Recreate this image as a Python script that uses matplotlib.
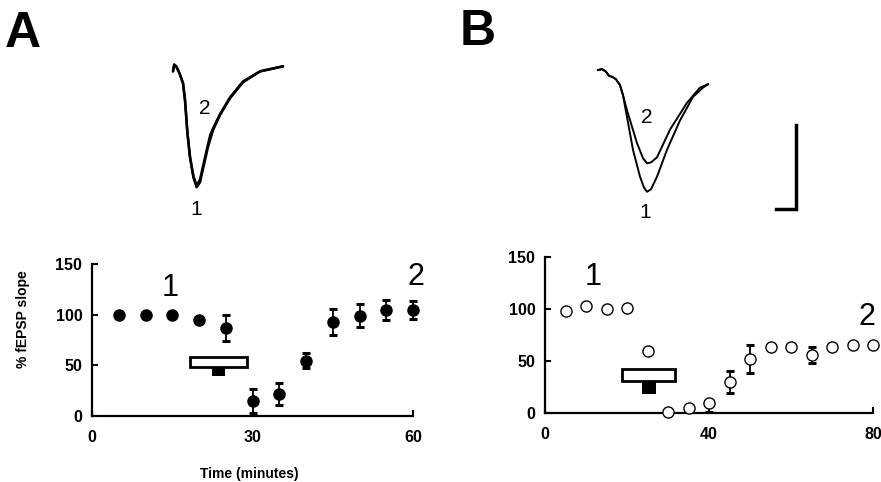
import matplotlib.pyplot as plt
import numpy as np

plt.rcParams['font.family'] = ['Liberation Sans', 'DejaVu Sans']

# Panel A: time course (filled circles)
time_a = [5, 10, 15, 20, 25, 30, 35, 40, 45, 50, 55, 60]
slope_a = [100, 100, 100, 95, 87, 15, 22, 54, 93, 99, 105, 105]
hi_a = [np.nan, np.nan, np.nan, np.nan, 100, 27, 33, 62, 106, 111, 114, 113]
lo_a = [np.nan, np.nan, np.nan, np.nan, 74, 3, 11, 47, 80, 88, 95, 96]

# Panel B: time course (open circles)
time_b = [5, 10, 15, 20, 25, 30, 35, 40, 45, 50, 55, 60, 65, 70, 75, 80]
slope_b = [98, 103, 100, 101, 60, 1, 5, 10, 30, 52, 63, 63, 56, 63, 65, 65]
hi_b = [np.nan] * 8 + [40, 65, np.nan, np.nan, 63, np.nan, np.nan, np.nan]
lo_b = [np.nan] * 7 + [1, 19, 38, np.nan, np.nan, 48, np.nan, np.nan, np.nan]

# drug application bars: (start, end, bottom, top) for open box and filled box
box_a = (18.3, 29.0, 48, 58)
fill_a = (22.4, 24.9, 39.5, 48)
box_b = (18.8, 31.7, 31, 42)
fill_b = (23.7, 27.0, 18, 31)

# example fEPSP traces (ms, mV)
ta1 = [0, 0.3, 0.8, 1.6, 2.5, 3.0, 3.6, 4.25, 5.1, 5.9, 6.75, 7.6, 8.75, 10, 11.75, 14.25, 17.5, 21.75, 27.5]
va1 = [-0.04, 0.04, 0.02, -0.06, -0.18, -0.38, -0.77, -1.06, -1.30, -1.42, -1.36, -1.18, -0.94, -0.74, -0.56, -0.36, -0.17, -0.04, 0.02]
ta2 = [0, 0.3, 0.8, 1.6, 2.5, 3.0, 3.6, 4.25, 5.1, 5.9, 6.75, 7.6, 8.6, 9.3, 10, 11.75, 14.25, 17.5, 21.75, 27.5]
va2 = [-0.04, 0.04, 0.02, -0.06, -0.18, -0.38, -0.77, -1.06, -1.29, -1.40, -1.33, -1.15, -0.94, -0.80, -0.72, -0.55, -0.35, -0.16, -0.04, 0.02]

tb1 = [0, 1, 2, 2.75, 3.5, 4.5, 5.5, 6.25, 7.25, 8.75, 10.5, 11.5, 12.25, 13.25, 14.75, 17.25, 20.5, 23.75, 26.25, 27.5]
vb1 = [0, 0.01, -0.02, -0.07, -0.08, -0.11, -0.18, -0.30, -0.56, -0.95, -1.27, -1.40, -1.45, -1.42, -1.27, -0.95, -0.60, -0.32, -0.21, -0.17]
tb2 = [0, 1, 2, 2.75, 3.5, 4.5, 5.5, 6.25, 7.25, 9.75, 11.25, 12.25, 13.25, 14.75, 18, 22.25, 25.5, 27.5]
vb2 = [0, 0.01, -0.02, -0.07, -0.08, -0.11, -0.18, -0.30, -0.48, -0.87, -1.05, -1.11, -1.10, -1.04, -0.71, -0.39, -0.21, -0.17]

scale_ms, scale_mv = 5, 1

W, H = 881, 482
fig = plt.figure(figsize=(W / 100, H / 100), dpi=100)


def px_axes(x0, y0, x1, y1):
    # axes from pixel box (top-left origin)
    return fig.add_axes([x0 / W, 1 - y1 / H, (x1 - x0) / W, (y1 - y0) / H])


def time_course(ax, t, y, hi, lo, face, xmax, xticks, box, fill, xpad):
    hi = np.array(hi, float)
    lo = np.array(lo, float)
    y = np.array(y, float)
    up = np.where(np.isnan(hi), 0, hi - y)
    dn = np.where(np.isnan(lo), 0, y - lo)
    ax.errorbar(t, y, yerr=[dn, up], fmt='none', ecolor='black', elinewidth=1.3,
                capsize=3, capthick=2.2, clip_on=False, zorder=2)
    ax.plot(t, y, 'o', ms=8, mfc=face, mec='black', mew=1.0, clip_on=False, zorder=3)
    ax.add_patch(plt.Rectangle((box[0], box[2]), box[1] - box[0], box[3] - box[2],
                               fc='white', ec='black', lw=2, zorder=1))
    ax.add_patch(plt.Rectangle((fill[0], fill[2]), fill[1] - fill[0], fill[3] - fill[2],
                               fc='black', ec='black', lw=0, zorder=1))
    ax.set_xlim(0, xmax)
    ax.set_ylim(0, 150)
    ax.set_xticks(xticks)
    ax.set_yticks([0, 50, 100, 150])
    for s in ['top', 'right']:
        ax.spines[s].set_visible(False)
    for s in ['left', 'bottom']:
        ax.spines[s].set_linewidth(1.6)
    ax.tick_params(direction='in', length=4, width=1.5, labelsize=11.5)
    ax.tick_params(axis='x', pad=10)
    ax.tick_params(axis='y', pad=7)
    for lab in ax.get_xticklabels() + ax.get_yticklabels():
        lab.set_fontweight('bold')


axA = px_axes(92, 264, 413, 416)
time_course(axA, time_a, slope_a, hi_a, lo_a, 'black', 60, [0, 30, 60], box_a, fill_a, 11)
axA.text(14.6, 126, '1', fontsize=22, ha='center', va='center')
axA.text(60.5, 137, '2', fontsize=22, ha='center', va='center')

axB = px_axes(545, 257, 873, 413)
time_course(axB, time_b, slope_b, hi_b, lo_b, 'white', 80, [0, 40, 80], box_b, fill_b, 10)
axB.text(11.7, 131, '1', fontsize=22, ha='center', va='center')
axB.text(78.5, 92, '2', fontsize=22, ha='center', va='center')

fig.text(23 / W, 1 - 319 / H, '% fEPSP slope', rotation=90, ha='center', va='center',
         fontsize=10, fontweight='bold')
fig.text(249 / W, 1 - 474 / H, 'Time (minutes)', ha='center', va='center',
         fontsize=10, fontweight='bold')

# trace insets: 4 px per ms, 84 px per mV, origin at trace start
def trace_axes(x0px, y0px, left, right, top, bottom):
    ax = px_axes(left, top, right, bottom)
    ax.set_xlim((left - x0px) / 4, (right - x0px) / 4)
    ax.set_ylim(-(bottom - y0px) / 84, -(top - y0px) / 84)
    ax.axis('off')
    return ax


insA = trace_axes(173, 68, 160, 300, 50, 225)
insA.plot(ta1, va1, color='black', lw=1.8, solid_capstyle='round')
insA.plot(ta2, va2, color='black', lw=1.8, solid_capstyle='round')
insA.text(8, -0.48, '2', fontsize=15, ha='center', va='center')
insA.text(5.8, -1.68, '1', fontsize=15, ha='center', va='center')

insB = trace_axes(598, 70, 585, 820, 50, 225)
insB.plot(tb1, vb1, color='black', lw=1.4)
insB.plot(tb2, vb2, color='black', lw=1.4)
insB.text(12.25, -0.57, '2', fontsize=15, ha='center', va='center')
insB.text(11.75, -1.70, '1', fontsize=15, ha='center', va='center')
# scale bar
sx, sy = 49.5, -1.655
insB.plot([sx - scale_ms, sx, sx], [sy, sy, sy + scale_mv], color='black', lw=2.5,
          solid_joinstyle='miter')

fig.text(23 / W, 1 - 34 / H, 'A', fontsize=36, fontweight='bold', ha='center', va='center')
fig.text(478 / W, 1 - 32 / H, 'B', fontsize=36, fontweight='bold', ha='center', va='center')

fig.savefig('out.png', dpi=100)
